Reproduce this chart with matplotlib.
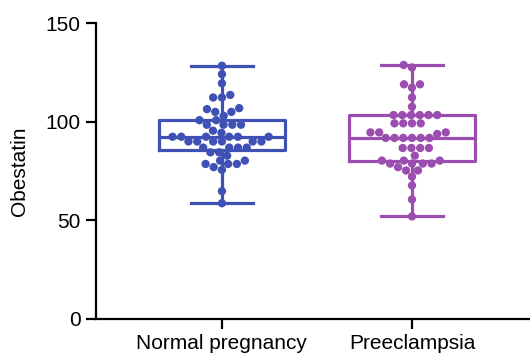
import numpy as np
import pandas as pd
import matplotlib
matplotlib.use("Agg")
import matplotlib.pyplot as plt
import seaborn as sns

# values
groups = ["Normal pregnancy", "Preeclampsia"]
normal = [128.4, 124.1, 119.5, 113.6, 112.3, 112.3, 106.9, 106.4, 105, 105, 103,
          100.8, 100.8, 98.5, 98.5, 98.5, 98.5, 95.5, 94.4,
          92.4, 92.4, 92.4, 92.4, 92.4, 92.4, 90, 90, 90, 90, 90, 90,
          86.9, 86.9, 86.9, 86.9, 84.5, 84.5, 82.8, 80.3, 80.3,
          78.6, 78.6, 78.6, 77, 75.6, 64.8, 58.7]
preeclampsia = [128.8, 127.5, 119, 119, 117.3, 112.3, 107.6,
                103.4, 103.4, 103.4, 103.4, 103.4, 103.4, 99.2, 99.2, 99.2, 99.2,
                94.6, 94.6, 94.6, 93.8, 91.8, 91.8, 91.8, 91.8, 91.8, 91.8,
                86.7, 86.7, 86.7, 86.7, 82.8, 80.3, 80.3, 80.3,
                78.8, 78.8, 78.8, 78.8, 77, 75.3, 75.3, 72.2, 67.7, 60.6, 52]
colors = ["#3F51B5", "#9C4DB0"]

df = pd.DataFrame({
    "group": [groups[0]] * len(normal) + [groups[1]] * len(preeclampsia),
    "value": normal + preeclampsia,
})

plt.rcParams["font.family"] = ["Liberation Sans", "DejaVu Sans"]

fig = plt.figure(figsize=(5.3, 3.56), dpi=100)
ax = fig.add_axes([0.181, 0.104, 0.819, 0.831])

# box (min to max whiskers, like Prism)
for i, vals in enumerate([normal, preeclampsia]):
    c = colors[i]
    ax.boxplot(vals, positions=[i], widths=0.663, whis=(0, 100), showfliers=False,
               capwidths=0.33, manage_ticks=False,
               boxprops=dict(color=c, linewidth=2.3),
               whiskerprops=dict(color=c, linewidth=2.3),
               capprops=dict(color=c, linewidth=2.3),
               medianprops=dict(color=c, linewidth=2.3))

sns.swarmplot(data=df, x="group", y="value", hue="group", palette=colors,
              size=6, legend=False, ax=ax, zorder=3)

ax.set_xlim(-0.663, 1.621)
ax.set_ylim(0, 150)
ax.set_yticks([0, 50, 100, 150])
ax.set_xticks([0, 1])
ax.set_xticklabels(groups)
ax.set_xlabel("")
ax.set_ylabel("Obestatin", fontsize=15, labelpad=12)

for s in ["top", "right"]:
    ax.spines[s].set_visible(False)
for s in ["left", "bottom"]:
    ax.spines[s].set_linewidth(1.6)
ax.tick_params(axis="both", labelsize=15, width=1.6, length=7, pad=4, colors="black")
ax.spines["left"].set_bounds(0, 150)

fig.savefig("out.png", dpi=100)
